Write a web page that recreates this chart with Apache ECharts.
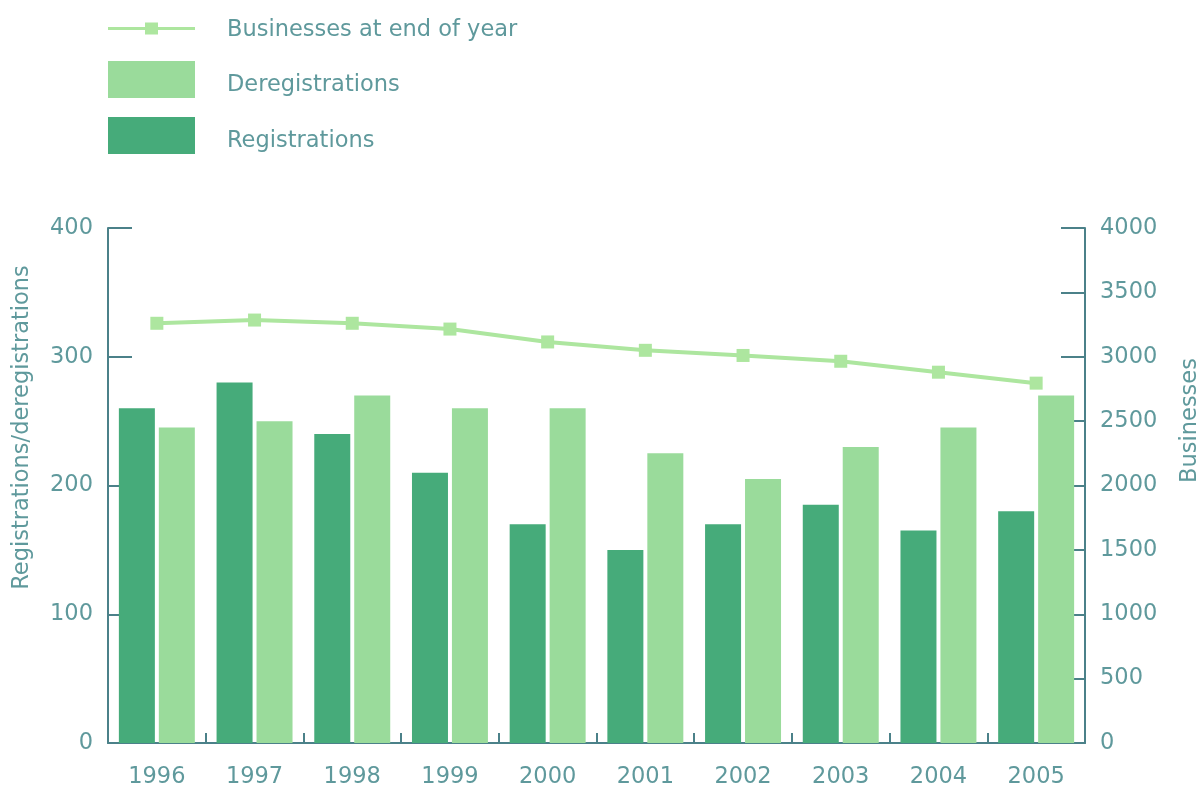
<!DOCTYPE html>
<html>
<head>
<meta charset="utf-8">
<script src="https://cdn.jsdelivr.net/npm/echarts@6/dist/echarts.min.js"></script>
<style>
  html, body { margin: 0; padding: 0; background: #fff; }
  #grafico { width: 1204px; height: 787px; }
</style>
</head>
<body>
<div id="grafico"></div>
<script>
const anos = ["1996", "1997", "1998", "1999", "2000", "2001", "2002", "2003", "2004", "2005"]
const registrations = [260, 280, 240, 210, 170, 150, 170, 185, 165, 180]
const deregistrations = [245, 250, 270, 260, 260, 225, 205, 230, 245, 270]
const businesses = [3260, 3285, 3260, 3215, 3115, 3050, 3010, 2965, 2880, 2795]

const corTexto = "#5f999c"
const corEixo = "#4b8189"
const fonte = "DejaVu Sans"
const tamanho = 22.5

let myChart = echarts.init(document.getElementById("grafico"))

let option = {
  animation: false,
  textStyle: { fontFamily: fonte },
  legend: [
    {
      orient: "vertical",
      left: 103,
      top: 14,
      itemWidth: 87,
      itemHeight: 13,
      data: [{
        name: "Businesses at end of year",
        icon: "path://M0,4.5L87,4.5L87,7.5L0,7.5Z M37,0L50,0L50,12L37,12Z"
      }],
      formatter: "{t|{name}}",
      textStyle: {
        rich: { t: { color: corTexto, fontSize: tamanho, fontFamily: fonte, padding: [4, 0, 0, 27] } }
      },
    },
    {
      orient: "vertical",
      left: 103,
      top: 56,
      itemWidth: 87,
      itemHeight: 37,
      itemGap: 19,
      data: [
        { name: "Deregistrations", icon: "rect" },
        { name: "Registrations", icon: "rect" },
      ],
      formatter: "{t|{name}}",
      textStyle: {
        rich: { t: { color: corTexto, fontSize: tamanho, fontFamily: fonte, padding: [11, 0, 0, 27] } }
      },
    },
  ],
  grid: {
    left: 108,
    right: 119,
    top: 228,
    bottom: 44,
    outerBoundsMode: "none",
  },
  xAxis: {
    type: "category",
    data: anos,
    axisLine: { lineStyle: { color: corEixo, width: 2 } },
    axisTick: { show: true, inside: true, length: 10, lineStyle: { color: corEixo, width: 2 } },
    axisLabel: { color: corTexto, fontSize: tamanho, margin: 23, fontFamily: fonte },
  },
  yAxis: [
    {
      type: "value",
      min: 0,
      max: 400,
      interval: 100,
      name: "Registrations/deregistrations",
      nameLocation: "middle",
      nameRotate: 90,
      nameGap: 74,
      nameTextStyle: { color: corTexto, fontSize: tamanho, fontFamily: fonte, padding: [0, 0, 0, 116] },
      axisLine: { show: true, lineStyle: { color: corEixo, width: 2 } },
      axisTick: { show: true, inside: true, length: 24, lineStyle: { color: corEixo, width: 2 } },
      axisLabel: { color: corTexto, fontSize: tamanho, margin: 15, fontFamily: fonte },
      splitLine: { show: false },
    },
    {
      type: "value",
      min: 0,
      max: 4000,
      interval: 500,
      position: "right",
      name: "Businesses",
      nameLocation: "middle",
      nameRotate: 90,
      nameGap: 94,
      nameTextStyle: { color: corTexto, fontSize: tamanho, fontFamily: fonte, padding: [0, 0, 0, 130] },
      axisLine: { show: true, lineStyle: { color: corEixo, width: 2 } },
      axisTick: { show: true, inside: true, length: 24, lineStyle: { color: corEixo, width: 2 } },
      axisLabel: { color: corTexto, fontSize: tamanho, margin: 15, fontFamily: fonte, formatter: (v) => String(v) },
      splitLine: { show: false },
    },
  ],
  series: [
    {
      name: "Registrations",
      type: "bar",
      data: registrations,
      barWidth: 36,
      barGap: "11%",
      itemStyle: { color: "#46ab7a" },
    },
    {
      name: "Deregistrations",
      type: "bar",
      data: deregistrations,
      barWidth: 36,
      itemStyle: { color: "#9adb9b" },
    },
    {
      name: "Businesses at end of year",
      type: "line",
      yAxisIndex: 1,
      data: businesses,
      symbol: "rect",
      symbolSize: 13,
      lineStyle: { color: "#ade69f", width: 4 },
      itemStyle: { color: "#ade69f" },
    },
  ],
}

option && myChart.setOption(option)
</script>
</body>
</html>
